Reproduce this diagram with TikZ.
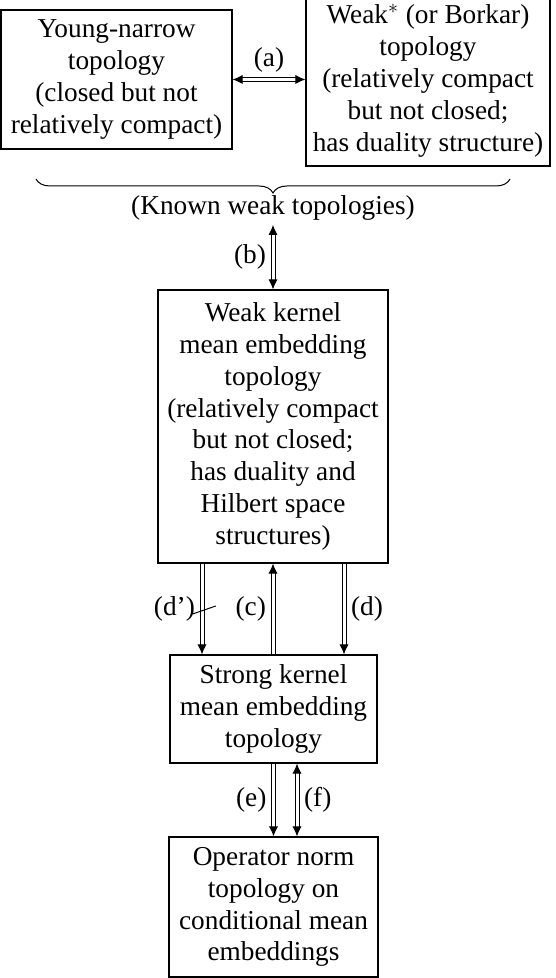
\documentclass[tikz,border=0pt]{standalone}
\usepackage{fontspec}
\setmainfont{Liberation Serif}
\usetikzlibrary{arrows.meta,decorations.pathreplacing}

\begin{document}
\begin{tikzpicture}[>={Latex[length=5bp,width=4.6bp]},line width=0.5bp,font=\fontsize{13.7}{16}\selectfont]
 \tikzstyle{topo}=[draw,line width=0.6bp,inner sep=0pt,align=center]
 \tikzstyle{imp}=[double,double distance=1.5bp]
 \useasboundingbox (0bp,0bp) rectangle (278bp,489bp);

 \node (young) at (58.25bp,449.25bp) [topo,minimum width=115.5bp,minimum height=69.5bp]
   {Young-narrow\\topology\\(closed but not\\relatively compact)};
 \node (weakstar) at (214bp,448.75bp) [topo,minimum width=122bp,minimum height=85.5bp]
   {Weak$^*$ (or Borkar)\\topology\\(relatively compact\\but not closed;\\has duality structure)};

 % brace over the two known topologies
 \coordinate (braceL) at (18bp,399.5bp);
 \coordinate (braceR) at (255bp,399.5bp);
 \draw [decorate,decoration={brace,mirror,amplitude=7bp}] (braceL) -- (braceR);
 \node (known) at (136.5bp,385bp) [inner sep=2bp] {(Known weak topologies)};

 \node (kernel) at (136.5bp,275.75bp) [topo,minimum width=115bp,minimum height=136.5bp]
   {Weak kernel\\mean embedding\\topology\\(relatively compact\\but not closed;\\has duality and\\Hilbert space\\structures)};
 \node (strong) at (136.75bp,134.5bp) [topo,minimum width=103.5bp,minimum height=54bp]
   {Strong kernel\\mean embedding\\topology};
 \node (operator) at (136.75bp,35.5bp) [topo,minimum width=104.5bp,minimum height=70bp]
   {Operator norm\\topology on\\conditional mean\\embeddings};

 \draw [imp,<->] (young.east) to node[above] {(a)} (young.east -| weakstar.west);
 \draw [imp,<->] (known) to node[left] {(b)} (kernel);

 \draw [imp,->] ([xshift=-35.5bp]kernel.south) to node[left] {(d’)} coordinate[midway] (dmid)
   ([xshift=-35.5bp]kernel.south |- strong.north);
 \draw ([shift={(-4.7bp,-2.5bp)}]dmid) -- ([shift={(6.9bp,1.5bp)}]dmid); % negation
 \draw [imp,->] (strong.north -| kernel.south) to node[left] {(c)} (kernel.south);
 \draw [imp,->] ([xshift=35.5bp]kernel.south) to node[right] {(d)}
   ([xshift=35.5bp]kernel.south |- strong.north);

 \draw [imp,->] (strong.south) to node[left] {(e)} (operator.north);
 \draw [imp,<->] ([xshift=11.75bp]strong.south) to node[right] {(f)}
   ([xshift=11.75bp]strong.south |- operator.north);
\end{tikzpicture}
\end{document}
